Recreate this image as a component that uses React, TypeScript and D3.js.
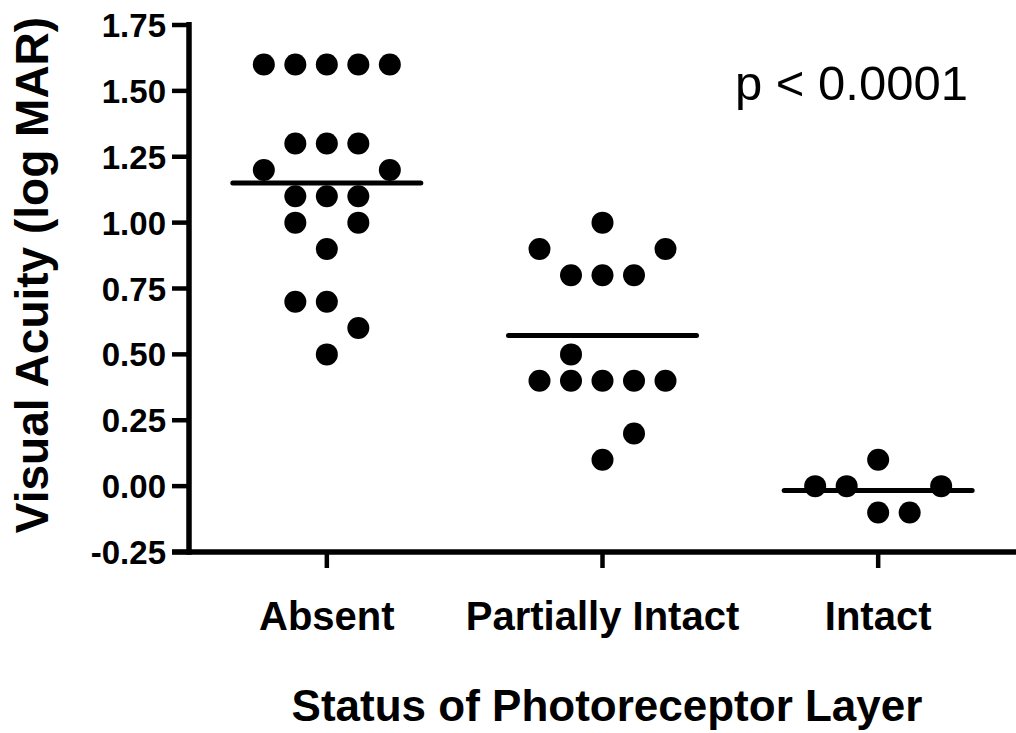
import React from "react";
import * as d3 from "d3";

const categories = ["Absent", "Partially Intact", "Intact"];

const absentValues = [1.6, 1.6, 1.6, 1.6, 1.6, 1.3, 1.3, 1.3, 1.2, 1.2, 1.1, 1.1, 1.1, 1.0, 1.0, 0.9, 0.7, 0.7, 0.6, 0.5];
const absentSlots = [-2, -1, 0, 1, 2, -1, 0, 1, -2, 2, -1, 0, 1, -1, 1, 0, -1, 0, 1, 0];

const partialValues = [1.0, 0.9, 0.9, 0.8, 0.8, 0.8, 0.5, 0.4, 0.4, 0.4, 0.4, 0.4, 0.2, 0.1];
const partialSlots = [0, -2, 2, -1, 0, 1, -1, -2, -1, 0, 1, 2, 1, 0];

const intactValues = [0.1, 0, 0, 0, -0.1, -0.1];
const intactSlots = [0, -2, -1, 2, 0, 1];

const yTickValues = [-0.25, 0, 0.25, 0.5, 0.75, 1.0, 1.25, 1.5, 1.75];

const yTitle = "Visual Acuity (log MAR)";
const xTitle = "Status of Photoreceptor Layer";
const annotation = "p < 0.0001";

const groups = [
  { name: categories[0], values: absentValues, slots: absentSlots },
  { name: categories[1], values: partialValues, slots: partialSlots },
  { name: categories[2], values: intactValues, slots: intactSlots },
];

const W = 1016;
const H = 733;
const FONT = "'Liberation Sans', Arial, Helvetica, sans-serif";

export default function App() {
  const left = 189;
  const right = 1016;
  const top = 25;
  const bottom = 552;

  const x = d3.scaleBand<string>().domain(categories).range([left, right]).padding(0);
  const y = d3.scaleLinear().domain([-0.25, 1.75]).range([bottom, top]);
  const slot = d3.scaleLinear().domain([-2, 2]).range([-63, 63]);
  const fmt = (t: number) => d3.format(".2f")(t).replace("\u2212", "-");
  const cx = (c: string) => (x(c) as number) + x.bandwidth() / 2;

  const axisW = 5.5;
  const tickW = 4.5;
  const yTickLen = 17;
  const xTickLen = 16;
  const meanHalf = 94;
  const r = 11;

  return (
    <svg
      width={W}
      height={H}
      style={{ position: "absolute", left: 0, top: 0, background: "#fff" }}
      fontFamily={FONT}
    >
      <rect x={0} y={0} width={W} height={H} fill="#fff" />

      {/* Y axis */}
      <line x1={left} x2={left} y1={top - 3} y2={bottom + axisW / 2} stroke="#000" strokeWidth={axisW} />
      {yTickValues.map((t) => (
        <g key={t}>
          <line x1={left - yTickLen} x2={left} y1={y(t)} y2={y(t)} stroke="#000" strokeWidth={tickW} />
          <text
            x={left - 23}
            y={y(t) + 12}
            textAnchor="end"
            fontSize={33}
            fontWeight="bold"
            fill="#000"
          >
            {fmt(t)}
          </text>
        </g>
      ))}

      {/* X axis */}
      <line x1={left - yTickLen} x2={right} y1={bottom} y2={bottom} stroke="#000" strokeWidth={axisW} />
      {categories.map((c) => (
        <g key={c}>
          <line x1={cx(c)} x2={cx(c)} y1={bottom} y2={bottom + xTickLen} stroke="#000" strokeWidth={tickW} />
          <text x={cx(c)} y={630} textAnchor="middle" fontSize={40} fontWeight="bold" fill="#000">
            {c}
          </text>
        </g>
      ))}

      {/* Data points and means */}
      {groups.map((g) => {
        const m = d3.mean(g.values) as number;
        const c = cx(g.name);
        return (
          <g key={g.name}>
            {g.values.map((v, i) => (
              <circle key={i} cx={c + slot(g.slots[i])} cy={y(v)} r={r} fill="#000" />
            ))}
            <line
              x1={c - meanHalf}
              x2={c + meanHalf}
              y1={y(m)}
              y2={y(m)}
              stroke="#000"
              strokeWidth={5}
              strokeLinecap="round"
            />
          </g>
        );
      })}

      {/* Titles */}
      <text
        transform={`translate(48, ${275}) rotate(-90)`}
        textAnchor="middle"
        fontSize={46}
        fontWeight="bold"
        fill="#000"
      >
        {yTitle}
      </text>
      <text x={607} y={721} textAnchor="middle" fontSize={44} fontWeight="bold" fill="#000">
        {xTitle}
      </text>
      <text x={735} y={100} textAnchor="start" fontSize={49} fill="#000">
        {annotation}
      </text>
    </svg>
  );
}
